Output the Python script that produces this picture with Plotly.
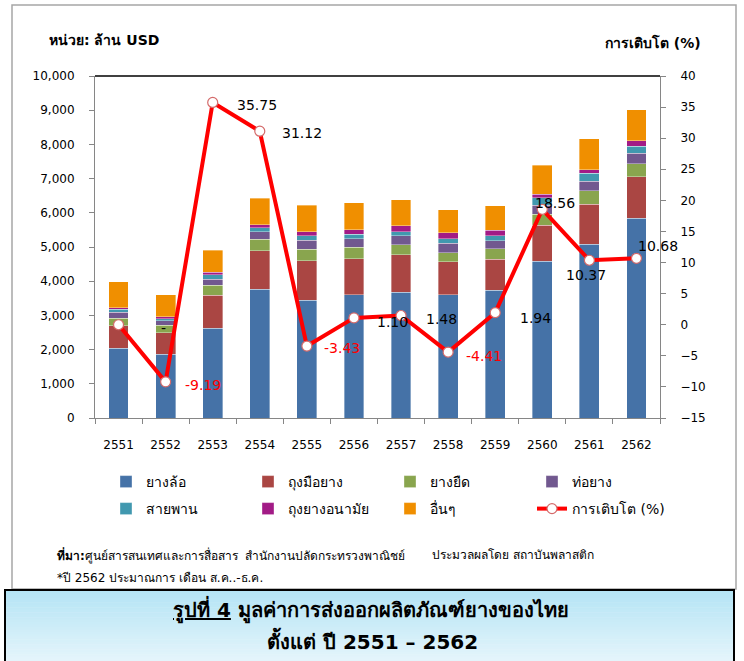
import plotly.graph_objects as go

# ---------------- data ----------------
years = ["2551", "2552", "2553", "2554", "2555", "2556",
         "2557", "2558", "2559", "2560", "2561", "2562"]

series_names = ["ยางล้อ", "ถุงมือยาง", "ยางยืด", "ท่อยาง", "สายพาน", "ถุงยางอนามัย", "อื่นๆ"]

tyres      = [2040, 1870, 2630, 3760, 3440, 3600, 3680, 3600, 3730, 4580, 5080, 5840]
gloves     = [660, 620, 965, 1130, 1160, 1050, 1090, 975, 915, 1050, 1170, 1220]
elastic    = [215, 215, 290, 340, 340, 350, 300, 250, 300, 330, 390, 380]
hoses      = [175, 145, 165, 215, 255, 245, 255, 285, 245, 265, 285, 300]
belts      = [97, 50, 145, 125, 135, 135, 125, 135, 135, 215, 225, 205]
condoms    = [38, 60, 70, 80, 115, 120, 165, 165, 165, 100, 115, 165]
others     = [752, 645, 645, 770, 770, 800, 760, 675, 710, 850, 900, 900]

growth_name = "การเติบโต (%)"
growth = [0, -9.19, 35.75, 31.12, -3.43, 1.10, 1.48, -4.41, 1.94, 18.56, 10.37, 10.68]

left_ticks = list(range(0, 10001, 1000))
right_ticks = list(range(-15, 41, 5))

# ---------------- styles ----------------
colors = ["#4572A7", "#AA4643", "#89A54E", "#71588F", "#4198AF", "#A21B86", "#F08F00"]
label_dx = [45, 37, 44, 42, 35, 39, 40, 36, 40, 13, -3, 22]
label_dy = [-3, -3, -3, -2, -2, -4, -3, -4, -5, 6, -15, 12]

W, H = 744, 661
L, R, T, B = 95, 660, 76, 418   # plot area in pixels


def px(x):
    return (x - L) / (R - L)


def py(y):
    return (B - y) / (B - T)


FONT = "Tahoma, 'DejaVu Sans', 'Noto Sans', sans-serif"

fig = go.Figure()

stack = [tyres, gloves, elastic, hoses, belts, condoms, others]
for i, (name, vals) in enumerate(zip(series_names, stack)):
    fig.add_trace(go.Bar(
        x=years, y=vals, name=name,
        marker=dict(color=colors[i], line=dict(width=0.6, color="rgba(255,255,255,0.6)")),
        legend="legend" if i < 4 else "legend2",
        hoverinfo="skip",
    ))

fig.add_trace(go.Scatter(
    x=years, y=growth, name=growth_name, yaxis="y2",
    mode="lines+markers",
    line=dict(color="#FF0000", width=4),
    marker=dict(symbol="circle", size=10, color="white",
                line=dict(color="#D46A6A", width=1.2)),
    legend="legend2",
    hoverinfo="skip",
))

# data labels for growth line (x given as category index)
for i, v in enumerate(growth):
    txt = "-" if v == 0 else f"{v:.2f}"
    fig.add_annotation(
        x=i, y=v, xref="x", yref="y2", text=txt, showarrow=False,
        xshift=label_dx[i], yshift=label_dy[i],
        font=dict(family=FONT, size=14, color="#FF0000" if v < 0 else "#000000"),
    )

shapes = []
# outer gray frame
shapes.append(dict(type="rect", xref="paper", yref="paper",
                   x0=px(12), x1=px(736), y0=py(589), y1=py(5),
                   line=dict(color="#A6A6A6", width=1.5), fillcolor="rgba(0,0,0,0)"))
# top border of plot area
shapes.append(dict(type="line", xref="paper", yref="paper",
                   x0=0, x1=1, y0=1, y1=1, line=dict(color="#000000", width=1.5)))
# title box gradient
n = 30
top_c = (180, 228, 245)
bot_c = (230, 245, 251)
y_top, y_bot = 590, 664
for k in range(n):
    t = k / (n - 1)
    c = tuple(int(round(top_c[j] + (bot_c[j] - top_c[j]) * t)) for j in range(3))
    ya = y_top + (y_bot - y_top) * k / n
    yb = y_top + (y_bot - y_top) * (k + 1) / n + 0.5
    shapes.append(dict(type="rect", xref="paper", yref="paper",
                       x0=px(5), x1=px(734), y0=py(yb), y1=py(ya),
                       line=dict(width=0), fillcolor=f"rgb{c}"))
shapes.append(dict(type="rect", xref="paper", yref="paper",
                   x0=px(5), x1=px(734), y0=py(664), y1=py(590),
                   line=dict(color="#000000", width=2), fillcolor="rgba(0,0,0,0)"))

annotations = [
    dict(text="<b>หน่วย: ล้าน USD</b>", x=px(47), y=py(40), xanchor="left", yanchor="middle",
         font=dict(family=FONT, size=14, color="#000")),
    dict(text="<b>การเติบโต (%)</b>", x=px(703), y=py(43), xanchor="right", yanchor="middle",
         font=dict(family=FONT, size=14, color="#000")),
    dict(text="<b>ที่มา:</b>ศูนย์สารสนเทศและการสื่อสาร  สำนักงานปลัดกระทรวงพาณิชย์",
         x=px(55), y=py(555), xanchor="left", yanchor="middle",
         font=dict(family=FONT, size=12, color="#000")),
    dict(text="ประมวลผลโดย สถาบันพลาสติก",
         x=px(430), y=py(555), xanchor="left", yanchor="middle",
         font=dict(family=FONT, size=12, color="#000")),
    dict(text="*ปี 2562 ประมาณการ เดือน ส.ค..-ธ.ค.",
         x=px(55), y=py(578), xanchor="left", yanchor="middle",
         font=dict(family=FONT, size=12, color="#000")),
    dict(text="<b><u>รูปที่ 4</u> มูลค่าการส่งออกผลิตภัณฑ์ยางของไทย</b>",
         x=px(371), y=py(609), xanchor="center", yanchor="middle",
         font=dict(family=FONT, size=20, color="#000")),
    dict(text="<b>ตั้งแต่ ปี 2551 – 2562</b>",
         x=px(372), y=py(640), xanchor="center", yanchor="middle",
         font=dict(family=FONT, size=20, color="#000")),
]
for a in annotations:
    a.update(xref="paper", yref="paper", showarrow=False)
    fig.add_annotation(**a)

axis_common = dict(showgrid=False, zeroline=False, showline=True, linecolor="#868686",
                   linewidth=1, ticks="outside", ticklen=5, tickcolor="#868686",
                   tickfont=dict(family=FONT, size=12, color="#000"))

fig.update_layout(
    width=W, height=H,
    margin=dict(l=L, r=W - R, t=T, b=H - B, pad=0),
    paper_bgcolor="white", plot_bgcolor="white",
    barmode="stack", bargap=0.58,
    showlegend=True,
    xaxis=dict(type="category", categoryorder="array", categoryarray=years,
               range=[-0.5, len(years) - 0.5], tickson="boundaries",
               ticklabelstandoff=16, **axis_common),
    yaxis=dict(range=[0, 10000], tickvals=left_ticks, tickformat=",d",
               ticklabelstandoff=12, **axis_common),
    yaxis2=dict(range=[-15, 40], tickvals=right_ticks, overlaying="y", side="right",
                ticklabelstandoff=12, **axis_common),
    legend=dict(orientation="h", x=px(106), y=py(482), xanchor="left", yanchor="middle",
                entrywidth=97, entrywidthmode="pixels", traceorder="normal",
                font=dict(family=FONT, size=14, color="#000"), bgcolor="rgba(0,0,0,0)"),
    legend2=dict(orientation="h", x=px(106), y=py(509), xanchor="left", yanchor="middle",
                 entrywidth=97, entrywidthmode="pixels", traceorder="normal",
                 font=dict(family=FONT, size=14, color="#000"), bgcolor="rgba(0,0,0,0)"),
    shapes=shapes,
)

fig.write_html("out.html")
